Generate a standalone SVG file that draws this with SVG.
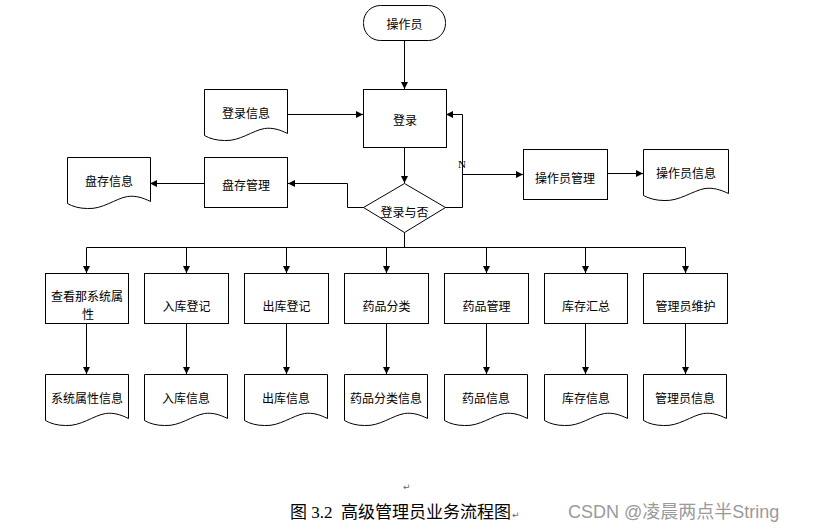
<svg xmlns="http://www.w3.org/2000/svg" xmlns:xlink="http://www.w3.org/1999/xlink" width="821" height="531" viewBox="0 0 821 531">
<style>
.s{fill:#fff;stroke:#000;stroke-width:1}
.t{font-family:"Noto Sans CJK SC","Liberation Sans",sans-serif;font-size:12px;fill:#000;text-anchor:middle;dominant-baseline:central}
.c{fill:none;stroke:#000;stroke-width:1}
.cap{font-family:"Liberation Serif","Noto Sans CJK SC",serif;font-size:17px;fill:#000;white-space:pre}
.wm{font-family:"Liberation Sans","Noto Sans CJK SC",sans-serif;font-size:18px;fill:#9a9a9a}
.ret{font-family:"DejaVu Sans",sans-serif;font-size:9px;fill:#666}
</style>
<defs>
<marker id="a" viewBox="0 0 8 8" refX="8" refY="4" markerWidth="7" markerHeight="7" markerUnits="userSpaceOnUse" orient="auto"><path d="M0,0 L8,4 L0,8 z" fill="#000"/></marker>
<path id="doc" d="M0,0 H83 V44 C75,40 68,38 60,39 C48,41 35,52 20,51 C12,51 5,49 0,46 Z"/>
</defs>
<rect width="821" height="531" fill="#fff"/>
<g id="connectors">
<path class="c" d="M404.5,40 V89" marker-end="url(#a)"/>
<path class="c" d="M287,114.5 H363" marker-end="url(#a)"/>
<path class="c" d="M404.5,148 V183" marker-end="url(#a)"/>
<path class="c" d="M445,207.5 H462.5 V114.5 H446" marker-end="url(#a)"/>
<path class="c" d="M462.5,174.5 H523" marker-end="url(#a)"/>
<path class="c" d="M607,173.5 H643" marker-end="url(#a)"/>
<path class="c" d="M364,207.5 H347.5 V183.5 H288" marker-end="url(#a)"/>
<path class="c" d="M204,183.5 H150" marker-end="url(#a)"/>
<path class="c" d="M404.5,232 V247.5"/>
<path class="c" d="M86.5,247.5 H685.5"/>
<path class="c" d="M86.5,247.5 V273" marker-end="url(#a)"/>
<path class="c" d="M186.5,247.5 V273" marker-end="url(#a)"/>
<path class="c" d="M286.5,247.5 V273" marker-end="url(#a)"/>
<path class="c" d="M386.5,247.5 V273" marker-end="url(#a)"/>
<path class="c" d="M486.5,247.5 V273" marker-end="url(#a)"/>
<path class="c" d="M585.5,247.5 V273" marker-end="url(#a)"/>
<path class="c" d="M685.5,247.5 V273" marker-end="url(#a)"/>
<path class="c" d="M86.5,324 V374" marker-end="url(#a)"/>
<path class="c" d="M186.5,324 V374" marker-end="url(#a)"/>
<path class="c" d="M286.5,324 V374" marker-end="url(#a)"/>
<path class="c" d="M386.5,324 V374" marker-end="url(#a)"/>
<path class="c" d="M486.5,324 V374" marker-end="url(#a)"/>
<path class="c" d="M585.5,324 V374" marker-end="url(#a)"/>
<path class="c" d="M685.5,324 V374" marker-end="url(#a)"/>
<text x="462" y="164" style="font-family:'Liberation Serif',serif;font-size:11px" text-anchor="middle" dominant-baseline="central">N</text>
</g>
<g id="operator"><rect class="s" x="363.5" y="5.5" width="82" height="35" rx="17"/><text class="t" x="404.5" y="23">操作员</text></g>
<g id="login"><rect class="s" x="363.5" y="89.5" width="83" height="58"/><text class="t" x="405" y="119">登录</text></g>
<g id="loginInfo"><use href="#doc" class="s" x="204.5" y="89.5"/><text class="t" x="246" y="112">登录信息</text></g>
<g id="decision"><path class="s" d="M404.5,183.5 L445.5,207.5 L404.5,232.5 L363.5,207.5 Z"/><text class="t" x="404.5" y="211">登录与否</text></g>
<g id="stockMgmt"><rect class="s" x="204.5" y="157.5" width="83" height="50"/><text class="t" x="246" y="184">盘存管理</text></g>
<g id="stockInfo"><use href="#doc" class="s" x="67.5" y="157.5"/><text class="t" x="109" y="180">盘存信息</text></g>
<g id="opMgmt"><rect class="s" x="523.5" y="149.5" width="84" height="50"/><text class="t" x="565" y="177">操作员管理</text></g>
<g id="opInfo"><path class="s" d="M643.5,149.5 H728.5 V193.5 C720,189.5 713,187.5 705,188.5 C693,190.5 679,201.5 664,200.5 C656,200.5 649,198.5 643.5,195.5 Z"/><text class="t" x="686" y="172">操作员信息</text></g>
<g id="n1"><rect class="s" x="45.5" y="273.5" width="83" height="50"/><text class="t" x="87" y="295">查看那系统属</text><text class="t" x="88" y="313">性</text></g>
<g id="n2"><rect class="s" x="144.5" y="273.5" width="84" height="50"/><text class="t" x="186.5" y="305">入库登记</text></g>
<g id="n3"><rect class="s" x="244.5" y="273.5" width="84" height="50"/><text class="t" x="286.5" y="305">出库登记</text></g>
<g id="n4"><rect class="s" x="344.5" y="273.5" width="84" height="50"/><text class="t" x="386.5" y="305">药品分类</text></g>
<g id="n5"><rect class="s" x="444.5" y="273.5" width="84" height="50"/><text class="t" x="486.5" y="305">药品管理</text></g>
<g id="n6"><rect class="s" x="544.5" y="273.5" width="83" height="50"/><text class="t" x="586" y="305">库存汇总</text></g>
<g id="n7"><rect class="s" x="643.5" y="273.5" width="84" height="50"/><text class="t" x="685.5" y="305">管理员维护</text></g>
<g id="d1"><use href="#doc" class="s" x="45.5" y="374.5"/><text class="t" x="87" y="397">系统属性信息</text></g>
<g id="d2"><use href="#doc" class="s" x="144.5" y="374.5"/><text class="t" x="186" y="397">入库信息</text></g>
<g id="d3"><use href="#doc" class="s" x="244.5" y="374.5"/><text class="t" x="286" y="397">出库信息</text></g>
<g id="d4"><use href="#doc" class="s" x="344.5" y="374.5"/><text class="t" x="386" y="397">药品分类信息</text></g>
<g id="d5"><use href="#doc" class="s" x="444.5" y="374.5"/><text class="t" x="486" y="397">药品信息</text></g>
<g id="d6"><use href="#doc" class="s" x="544.5" y="374.5"/><text class="t" x="586" y="397">库存信息</text></g>
<g id="d7"><use href="#doc" class="s" x="643.5" y="374.5"/><text class="t" x="685" y="397">管理员信息</text></g>
<text class="ret" x="403" y="490">↵</text>
<text class="cap" x="290" y="518" xml:space="preserve">图 3.2  高级管理员业务流程图</text>
<text class="ret" x="512" y="518">↵</text>
<text class="wm" x="568" y="518">CSDN @凌晨两点半String</text>
</svg>
